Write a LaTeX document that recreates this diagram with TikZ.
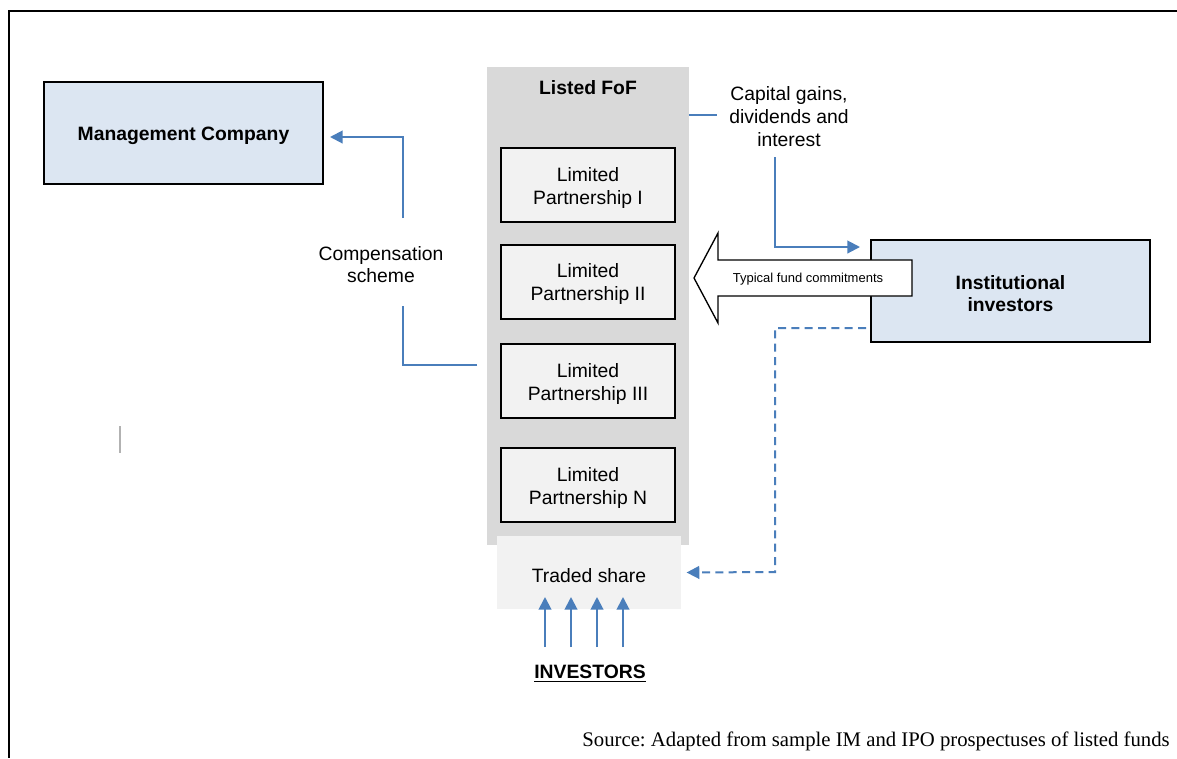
\documentclass[tikz,border=0pt]{standalone}
\usepackage{fontspec}
\setmainfont{Liberation Sans}
\newfontfamily\srcfont{Liberation Serif}
\usetikzlibrary{arrows.meta}
\definecolor{lblue}{HTML}{DCE6F2}
\definecolor{lgrey}{HTML}{D9D9D9}
\definecolor{vlgrey}{HTML}{F2F2F2}
\definecolor{ablue}{HTML}{4A7EBB}
\begin{document}
\begin{tikzpicture}[x=0.75pt,y=-0.75pt,
  box/.style={draw=black, line width=1.5pt, inner sep=0pt},
  boxtext/.style={label={[align=center, yshift=-2pt, font=\fontsize{14.5}{17}\selectfont]center:#1}},
  boldtext/.style={label={[align=center, yshift=-2pt, font=\fontsize{14.5}{17}\selectfont\bfseries]center:#1}},
  bigbox/.style={box, fill=lblue, minimum width=279*0.75pt, minimum height=102*0.75pt},
  lpbox/.style={box, fill=vlgrey, minimum width=174*0.75pt, minimum height=74*0.75pt},
  lbl/.style={align=center, font=\fontsize{14.5}{17}\selectfont},
  conn/.style={draw=ablue, line width=1.5pt},
  tipped/.style={-{Triangle[length=9.5pt,width=9.5pt]}},
  dashline/.style={dash pattern=on 6pt off 4pt},
]
\useasboundingbox (0,0) rectangle (1177,758);
\fill[white] (0,0) rectangle (1177,758);
% frame
\draw[line width=1.5pt] (1177,11) -- (9,11) -- (9,758);
% cursor mark
\draw[gray!60, line width=1pt] (120,426) -- (120,453);

% Management company
\node[bigbox, boldtext={Management Company}] (mc) at (183.5,133) {};

% Listed FoF
\node[fill=lgrey, minimum width=202*0.75pt, minimum height=478*0.75pt, inner sep=0pt] (fof) at (588,306) {};
\node[lbl, font=\fontsize{14.5}{17}\selectfont\bfseries] (foft) at (588,87.5) {Listed FoF};
\node[lpbox, boxtext={Limited\\Partnership I}] (lp1) at (588,185) {};
\node[lpbox, boxtext={Limited\\Partnership II}] (lp2) at (588,281.5) {};
\node[lpbox, boxtext={Limited\\Partnership III}] (lp3) at (588,381) {};
\node[lpbox, boxtext={Limited\\Partnership N}] (lpn) at (588,485) {};

% Traded share
\node[fill=vlgrey, minimum width=184*0.75pt, minimum height=73*0.75pt, inner sep=0pt, boxtext={Traded share}] (ts) at (589,572.5) {};

% Institutional investors
\node[bigbox, boldtext={Institutional\\investors}] (ii) at (1010.5,291) {};

% hollow arrow
\draw[fill=white, line width=1pt, line join=miter] (912,260) -- (718,260) -- (718,233) -- (694,278) -- (718,323) -- (718,296) -- (912,296) -- cycle;
\node[font=\fontsize{9.75}{11}\selectfont] (tfc) at (808,279.5) {Typical fund commitments};

% Capital gains
\node[lbl] (cg) at (789,116.5) {Capital gains,\\dividends and\\interest};
\draw[conn] (fof.east |- 0,115) -- (717,115);
\coordinate (cgA) at (775,157);
\coordinate (cgB) at (860,247);
\draw[conn, tipped] (cgA) |- (cgB);

% dashed to traded share
\coordinate (dA) at (866,328);
\coordinate (dM) at (775,572);
\draw[conn, dashline, tipped] (dA) -| (dM) -- ([xshift=4pt]ts.east);

% Compensation scheme
\node[lbl] (cs) at (381,264.5) {Compensation\\scheme};
\coordinate (csA) at (477,365);
\coordinate (csB) at (403,306);
\draw[conn] (csA) -| (csB);
\coordinate (csC) at (403,218);
\coordinate (csD) at (330,137);
\draw[conn, tipped] (csC) |- (csD);

% investors arrows
\foreach \x [count=\i] in {545,571,597,623} {
  \coordinate (ia\i) at (\x,647);
  \coordinate (ib\i) at (\x,597);
  \draw[conn, tipped] (ia\i) -- (ib\i);
}
\node[font=\fontsize{14.5}{17}\selectfont\bfseries] (inv) at (590,673.5) {\underline{INVESTORS}};

% source
\node[anchor=base east, inner sep=0pt, font=\srcfont\fontsize{15.55}{18}\selectfont\frenchspacing] (src) at (1170,746) {Source: Adapted from sample IM and IPO prospectuses of listed funds};
\end{tikzpicture}
\end{document}
